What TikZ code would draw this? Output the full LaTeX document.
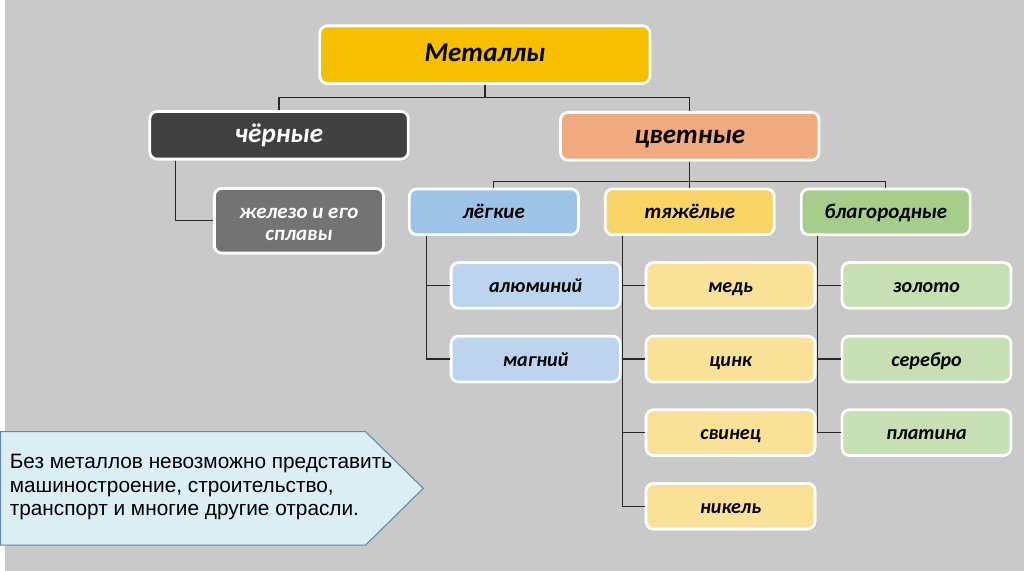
\documentclass[tikz,border=0pt]{standalone}
\usepackage{fontspec}
\setmainfont{Carlito}
\newfontfamily\notefont{Liberation Sans}
\usepackage{tikz}
\usetikzlibrary{positioning,shadows}
\definecolor{SlideBg}{RGB}{201,201,201}
\definecolor{TopGold}{RGB}{246,191,0}
\definecolor{FerrDark}{RGB}{64,64,64}
\definecolor{FerrGray}{RGB}{115,115,115}
\definecolor{NonFerr}{RGB}{240,170,125}
\definecolor{LightHead}{RGB}{157,195,230}
\definecolor{HeavyHead}{RGB}{249,212,102}
\definecolor{NobleHead}{RGB}{166,206,138}
\definecolor{LightLeaf}{RGB}{189,212,238}
\definecolor{HeavyLeaf}{RGB}{249,225,152}
\definecolor{NobleLeaf}{RGB}{198,224,180}
\definecolor{NoteFill}{RGB}{218,238,243}
\definecolor{NoteLine}{RGB}{95,135,170}

\begin{document}
\begin{tikzpicture}[
  x=0.02cm,
  y=-0.02cm,
  box/.style={
    rectangle,
    rounded corners=1.5mm,
    draw=white,
    line width=1.6pt,
    minimum width=3.4cm,
    minimum height=0.92cm,
    text height=2.1ex,
    text depth=0.4ex,
    font=\bfseries\itshape\fontsize{12}{14}\selectfont,
    drop shadow={opacity=0.35, shadow xshift=0.8pt, shadow yshift=-0.8pt}
  },
  leaf/.style={
    box,
    font=\bfseries\itshape\fontsize{11.5}{14}\selectfont
  },
  head/.style={
    box,
    minimum width=5.2cm,
    minimum height=0.96cm,
    font=\bfseries\itshape\fontsize{15.5}{18}\selectfont
  },
  link/.style={draw=black!85, line width=0.7pt}
]

% background fixes the page size
\fill[SlideBg] (0,0) rectangle (1024,574);

% Level 1 and 2
\node[head, fill=TopGold, minimum width=6.64cm, minimum height=1.16cm] (metals) at (482,55) {Металлы};
\node[head, fill=FerrDark, text=white] (ferrous) at (275,136) {чёрные};
\node[head, fill=NonFerr] (nonferrous) at (688,137) {цветные};

% Level 3
\node[box, fill=FerrGray, text=white, minimum height=1.3cm, text height=, text depth=, align=center,
  font=\bfseries\itshape\fontsize{12}{12.5}\selectfont] (iron) at (295,222) {\rule{0pt}{10pt}железо и его\\сплавы};
\node[box, fill=LightHead] (light) at (491,213) {лёгкие};
\node[box, fill=HeavyHead] (heavy) at (688,213) {тяжёлые};
\node[box, fill=NobleHead] (noble) at (885,213) {благородные};

% Level 4: light metals
\node[leaf, fill=LightLeaf] (alum) at (533,287) {алюминий};
\node[leaf, fill=LightLeaf] (magn) at (533,361) {магний};

% Level 4: heavy metals
\node[leaf, fill=HeavyLeaf] (copper) at (729,287) {медь};
\node[leaf, fill=HeavyLeaf] (zinc) at (729,361) {цинк};
\node[leaf, fill=HeavyLeaf] (lead) at (729,435) {свинец};
\node[leaf, fill=HeavyLeaf] (nickel) at (729,509) {никель};

% Level 4: noble metals
\node[leaf, fill=NobleLeaf] (gold) at (926,287) {золото};
\node[leaf, fill=NobleLeaf] (silver) at (926,361) {серебро};
\node[leaf, fill=NobleLeaf] (platinum) at (926,435) {платина};

% connectors
\draw[link] (metals.south) -- ++(0,13) -| (ferrous.north);
\draw[link] (metals.south) -- ++(0,13) -| (nonferrous.north);
\draw[link] (ferrous.south west) ++(27,0) |- (iron.west);
\draw[link] (nonferrous.south) -- ++(0,20) -| (light.north);
\draw[link] (nonferrous.south) -- ++(0,20) -| (heavy.north);
\draw[link] (nonferrous.south) -- ++(0,20) -| (noble.north);
\foreach \leaf in {alum,magn}
  \draw[link] (light.south west) ++(19,0) |- (\leaf.west);
\foreach \leaf in {copper,zinc,lead,nickel}
  \draw[link] (heavy.south west) ++(19,0) |- (\leaf.west);
\foreach \leaf in {gold,silver,platinum}
  \draw[link] (noble.south west) ++(18,0) |- (\leaf.west);

% note arrow
\filldraw[fill=NoteFill, draw=NoteLine, line width=0.6pt]
  (-5,434) -- (362,434) -- (420,491) -- (362,548) -- (-5,548) -- cycle;
\node[anchor=west, align=left, inner sep=0pt, font=\notefont\fontsize{11.9}{13.5}\selectfont] (note) at (4,490)
  {Без металлов невозможно представить\\машиностроение, строительство,\\транспорт и многие другие отрасли.};
\end{tikzpicture}
\end{document}
